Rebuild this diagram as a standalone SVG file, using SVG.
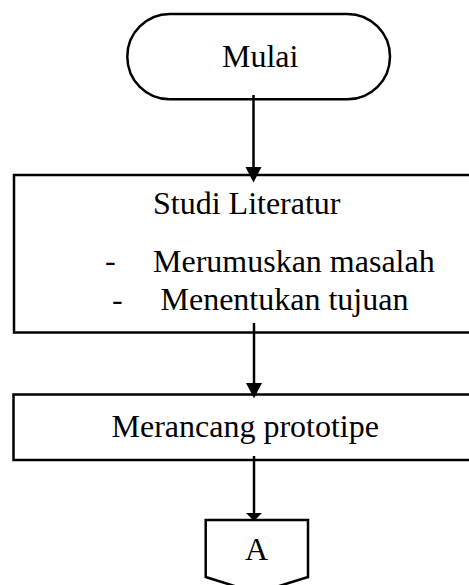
<svg xmlns="http://www.w3.org/2000/svg" width="469" height="585" viewBox="0 0 469 585">
<style>
.shape{fill:#fff;stroke:#000;stroke-width:2.5}
.t{font-family:"Liberation Serif","Times New Roman",serif;font-size:32px;fill:#000}
.conn{stroke:#000;stroke-width:2.5;fill:none}
.head{fill:#000}
</style>
<rect width="469" height="585" fill="#fff"/>
<g id="mulai">
<rect class="shape" x="127.3" y="14" width="262.7" height="85.3" rx="42.6" ry="42.6"/>
<text class="t" x="222" y="67">Mulai</text>
</g>
<g id="studi">
<rect class="shape" x="14" y="175" width="470" height="157.5"/>
<text class="t" x="153" y="214">Studi Literatur</text>
<text class="t" x="105" y="271">-</text>
<text class="t" x="153" y="272">Merumuskan masalah</text>
<text class="t" x="112" y="310">-</text>
<text class="t" x="160.5" y="310">Menentukan tujuan</text>
</g>
<g id="merancang">
<rect class="shape" x="13.5" y="394.5" width="470" height="65.5"/>
<text class="t" x="111.5" y="437">Merancang prototipe</text>
</g>
<g id="offpage-a">
<path class="shape" d="M205.7,520 L308,520 L308,577 L256.8,593 L205.7,577 Z"/>
<text class="t" x="245" y="560">A</text>
</g>
<g id="connectors">
<line class="conn" x1="253.5" y1="95" x2="253.5" y2="168"/>
<path class="head" d="M245.5,167 L261.5,167 L253.5,182.5 Z"/>
<line class="conn" x1="254" y1="323" x2="254" y2="384"/>
<path class="head" d="M246,383 L262,383 L254,398.3 Z"/>
<line class="conn" x1="254" y1="456" x2="254" y2="514"/>
<path class="head" d="M246,513 L262,513 L254,521 Z"/>
</g>
</svg>
